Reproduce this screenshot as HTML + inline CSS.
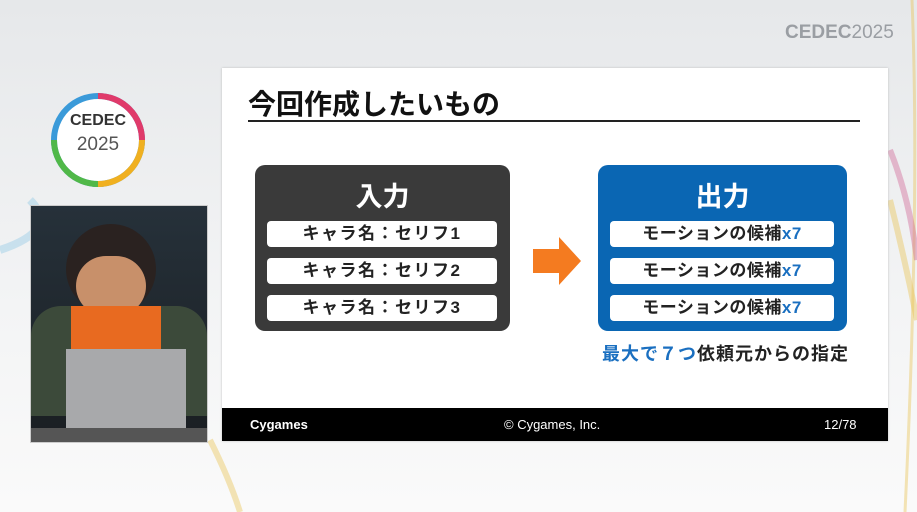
<!DOCTYPE html>
<html><head><meta charset="utf-8"><style>
body{margin:0;width:917px;height:512px;overflow:hidden;background:linear-gradient(#e6e8ea,#f3f4f5 60%,#fafafa);font-family:"Liberation Sans","Noto Sans CJK JP",sans-serif;position:relative}
.a{position:absolute}
.row{position:absolute;background:#fff;border-radius:4px;font-weight:bold;font-size:17px;letter-spacing:1.5px;color:#222;text-align:center;line-height:26px;height:26px}
.x{color:#1a6fc0}
</style></head><body>
<svg class="a" style="left:0;top:0" width="917" height="512">
<path d="M912 0 Q920 200 905 512" stroke="#e8c04a" stroke-width="3" fill="none" opacity=".4"/>
<path d="M0 250 Q60 230 30 200" stroke="#9fd0e8" stroke-width="8" fill="none" opacity=".5"/>
<path d="M890 150 Q910 200 917 260" stroke="#d06090" stroke-width="6" fill="none" opacity=".4"/>
<path d="M890 200 Q905 260 917 320" stroke="#e8c04a" stroke-width="6" fill="none" opacity=".4"/>
<path d="M210 440 Q230 480 240 512" stroke="#e8c04a" stroke-width="6" fill="none" opacity=".4"/>
<circle cx="98" cy="140" r="44" fill="#fff" stroke="#3a9ad9" stroke-width="6"/>
<path d="M98 96 A44 44 0 0 1 142 140" stroke="#e03a6a" stroke-width="6" fill="none"/>
<path d="M142 140 A44 44 0 0 1 98 184" stroke="#f0b020" stroke-width="6" fill="none"/>
<path d="M98 184 A44 44 0 0 1 54 140" stroke="#50b848" stroke-width="6" fill="none"/>
<text x="98" y="125" font-size="16" font-weight="bold" text-anchor="middle" fill="#333" font-family="Liberation Sans">CEDEC</text>
<text x="98" y="150" font-size="19" text-anchor="middle" fill="#555" font-family="Liberation Sans">2025</text>
<text x="785" y="38" font-size="19" fill="#9a9ea3" font-family="Liberation Sans" font-weight="bold">CEDEC<tspan font-weight="normal">2025</tspan></text>
</svg>
<div class="a" style="left:30px;top:205px;width:176px;height:236px;background:linear-gradient(#26313a,#1a1e22);border:1px solid #ccc">
 <div class="a" style="left:35px;top:18px;width:90px;height:90px;border-radius:45px;background:#2a2220"></div>
 <div class="a" style="left:45px;top:50px;width:70px;height:60px;border-radius:30px;background:#c8906a"></div>
 <div class="a" style="left:0;top:100px;width:176px;height:110px;background:#3c4a3a;border-radius:30px 30px 0 0"></div>
 <div class="a" style="left:40px;top:100px;width:90px;height:70px;background:#e86a20"></div>
 <div class="a" style="left:35px;top:143px;width:120px;height:80px;background:#a8a9ab"></div>
 <div class="a" style="left:0;top:222px;width:176px;height:14px;background:#555"></div>
</div>
<div class="a" style="left:222px;top:68px;width:666px;height:373px;background:#fff;box-shadow:0 0 2px #bbb">
 <div class="a" style="left:26px;top:15px;font-size:28px;font-weight:bold;color:#111">今回作成したいもの</div>
 <div class="a" style="left:26px;top:52px;width:612px;height:2px;background:#222"></div>
 <div class="a" style="left:33px;top:97px;width:255px;height:166px;background:#3a3a3a;border-radius:10px">
  <div class="a" style="left:0;width:255px;top:10px;text-align:center;color:#fff;font-size:27px;font-weight:bold">入力</div>
  <div class="row" style="left:12px;top:56px;width:230px">キャラ名：セリフ1</div>
  <div class="row" style="left:12px;top:93px;width:230px">キャラ名：セリフ2</div>
  <div class="row" style="left:12px;top:130px;width:230px">キャラ名：セリフ3</div>
 </div>
 <svg class="a" style="left:311px;top:169px" width="48" height="48"><polygon points="0,12 26,12 26,0 48,24 26,48 26,36 0,36" fill="#f47b20"/></svg>
 <div class="a" style="left:376px;top:97px;width:249px;height:166px;background:#0a66b3;border-radius:10px">
  <div class="a" style="left:0;width:249px;top:10px;text-align:center;color:#fff;font-size:27px;font-weight:bold">出力</div>
  <div class="row" style="left:12px;top:56px;width:224px;letter-spacing:0.5px">モーションの候補<span class="x">x7</span></div>
  <div class="row" style="left:12px;top:93px;width:224px;letter-spacing:0.5px">モーションの候補<span class="x">x7</span></div>
  <div class="row" style="left:12px;top:130px;width:224px;letter-spacing:0.5px">モーションの候補<span class="x">x7</span></div>
 </div>
 <div class="a" style="left:380px;top:272px;font-size:18px;letter-spacing:1px;font-weight:bold;color:#222"><span class="x">最大で７つ</span>依頼元からの指定</div>
 <div class="a" style="left:0;top:340px;width:666px;height:33px;background:#000;color:#fff;font-size:13px">
  <div class="a" style="left:28px;top:9px;font-weight:bold">Cygames</div>
  <div class="a" style="left:282px;top:9px">© Cygames, Inc.</div>
  <div class="a" style="left:602px;top:9px">12/78</div>
 </div>
</div>
</body></html>
